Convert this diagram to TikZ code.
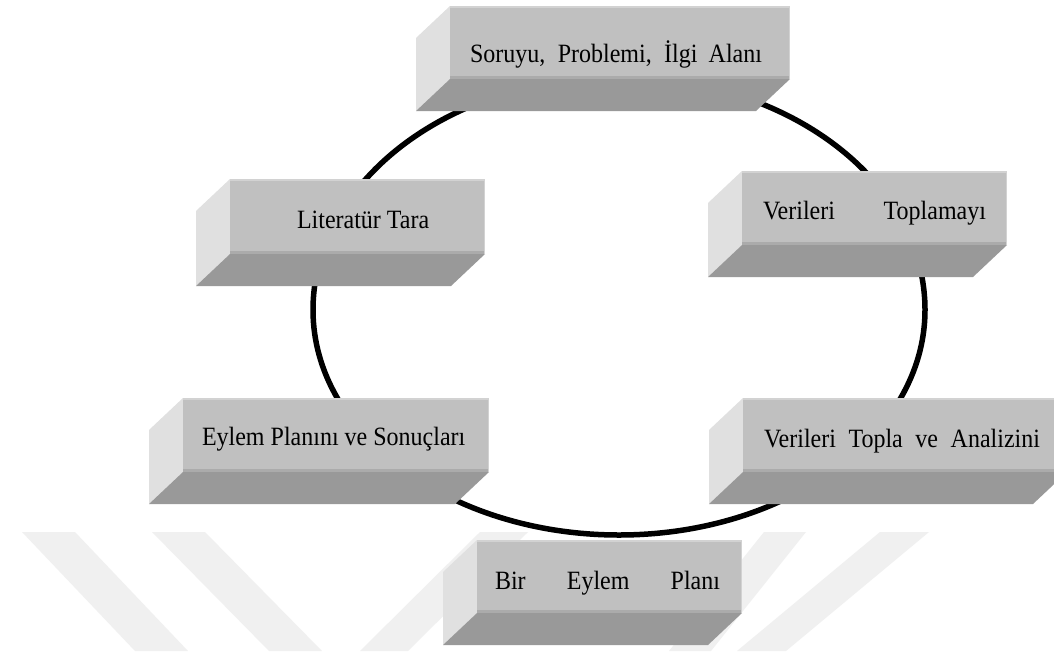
\documentclass[tikz,border=0pt]{standalone}
\usepackage{fontspec}
\usepackage{graphicx}
\setmainfont{Liberation Serif}
\definecolor{frontc}{HTML}{C0C0C0}
\definecolor{sidec}{HTML}{E0E0E0}
\definecolor{botc}{HTML}{999999}
\definecolor{bandc}{HTML}{ABABAB}
\definecolor{hlc}{HTML}{D2D2D2}
\definecolor{wmc}{HTML}{F0F0F0}
\tikzset{
  face/.style={fill=frontc, inner sep=0pt, outer sep=0pt, anchor=north west, draw=none},
  lbl/.style={inner sep=0pt, outer sep=0pt, anchor=base west, font=\fontsize{24}{28}\selectfont},
  ring/.style={line width=5.5pt, black},
  wm/.style={fill=wmc}
}
\newcommand\tall[1]{\scalebox{1}[1.1]{#1}}
% name, x1, y1, x2, y2 (front face)
\newcommand\pbox[5]{%
  \fill[sidec] (#2,#3) -- (#2-34,#3+32) -- (#2-34,#5+32) -- (#2,#5) -- cycle;
  \fill[botc] (#2,#5) -- (#4,#5) -- (#4-34,#5+32) -- (#2-34,#5+32) -- cycle;
  \pgfmathsetmacro\bw{#4-#2}\pgfmathsetmacro\bh{#5-#3}%
  \node[face, minimum width=\bw pt, minimum height=\bh pt] (#1) at (#2,#3) {};
  \fill[bandc] (#2,#5-3) rectangle (#4,#5);
  \draw[hlc, line width=1.5pt] (#2,#3+0.75) -- (#4-0.75,#3+0.75) -- (#4-0.75,#5);
}
\begin{document}
\begin{tikzpicture}[x=1pt,y=-1pt]
\clip (0,0) rectangle (1054,651);
\fill[white] (0,0) rectangle (1054,651);
% watermark stripes
\fill[wm] (22,532) -- (75,532) -- (188,651) -- (135,651) -- cycle;
\fill[wm] (152,532) -- (205,532) -- (322,651) -- (269,651) -- cycle;
\fill[wm] (480,532) -- (528,532) -- (408,651) -- (360,651) -- cycle;
\fill[wm] (764,532) -- (806,532) -- (711,651) -- (669,651) -- cycle;
\fill[wm] (880,532) -- (929,532) -- (786,651) -- (737,651) -- cycle;
% ring
\draw[ring] (925,310) arc[start angle=0, end angle=180, x radius=306pt, y radius=233pt]
                      arc[start angle=180, end angle=360, x radius=306pt, y radius=225pt];
% boxes
\pbox{soru}{450}{6}{790}{79}
\node[lbl] (soru-t) at (470,62) {\tall{\makebox[292pt][s]{Soruyu, Problemi, İlgi Alanı}}};
\pbox{lit}{230}{179}{485}{254}
\node[lbl] (lit-t) at (297,228) {\tall{Literatür Tara}};
\pbox{vt}{742}{171}{1007}{245}
\node[lbl] (vt-t) at (763,219) {\tall{\makebox[223pt][s]{Verileri Toplamayı}}};
\pbox{eps}{183}{398}{489}{472}
\node[lbl] (eps-t) at (202,445) {\tall{Eylem Planını ve Sonuçları}};
\pbox{vta}{743}{398}{1067}{472}
\node[lbl] (vta-t) at (764,447) {\tall{\makebox[276pt][s]{Verileri Topla ve Analizini}}};
\pbox{bep}{477}{540}{742}{613}
\node[lbl] (bep-t) at (495,589) {\tall{\makebox[225pt][s]{Bir Eylem Planı}}};
\end{tikzpicture}
\end{document}
